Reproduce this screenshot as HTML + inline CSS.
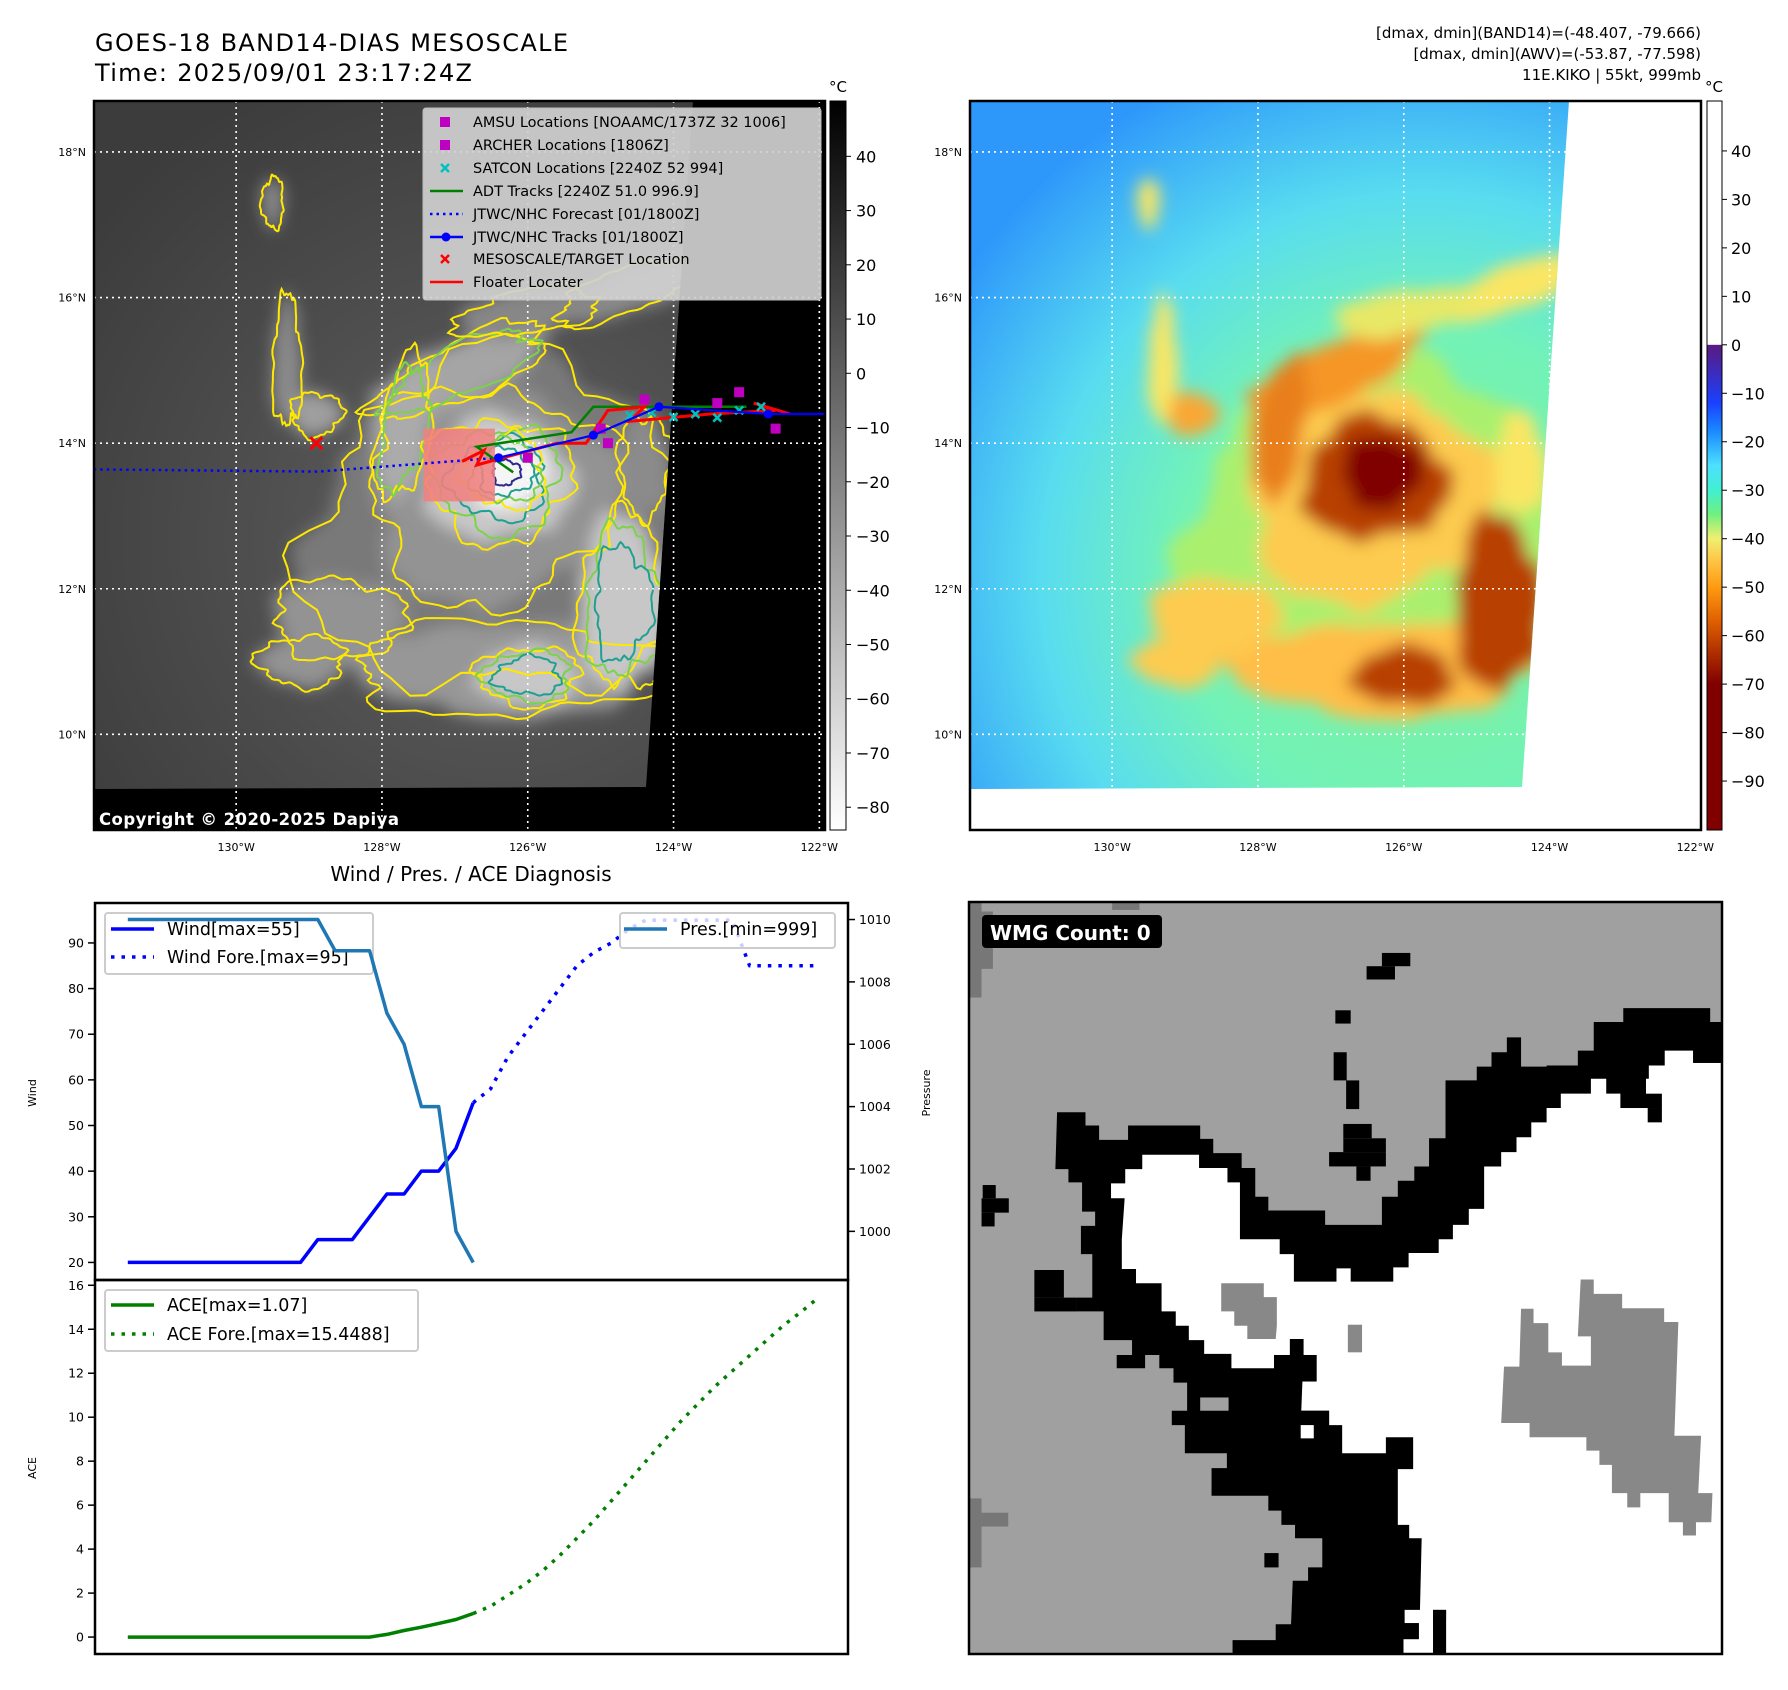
<!DOCTYPE html>
<html><head><meta charset="utf-8">
<style>
body{margin:0;background:#fff}
svg{display:block;font-family:"DejaVu Sans","Liberation Sans",sans-serif}
</style></head>
<body>
<svg id="root" width="1788" height="1690" viewBox="0 0 1788 1690" xmlns="http://www.w3.org/2000/svg">
<defs>
  <filter id="blurBig" x="-30%" y="-30%" width="160%" height="160%"><feGaussianBlur stdDeviation="8"/></filter>
  <clipPath id="clipData1"><polygon points="94,101 693,101 646,787 94,789"/></clipPath>
  <clipPath id="clipData2"><polygon points="970,101 1569,101 1522,787 970,789"/></clipPath>
  <clipPath id="clipAx1"><rect x="94" y="101" width="731" height="729"/></clipPath>
  <clipPath id="clipAx2"><rect x="970" y="101" width="731" height="729"/></clipPath>
  <clipPath id="clipWmg"><rect x="969" y="902" width="753" height="752"/></clipPath>
  <linearGradient id="cbGrey" x1="0" y1="0" x2="0" y2="1">
    <stop offset="0" stop-color="#000"/><stop offset="1" stop-color="#fff"/>
  </linearGradient>
  <linearGradient id="cbColor" x1="0" y1="0" x2="0" y2="1">
    <stop offset="0" stop-color="#fff"/>
    <stop offset="0.334" stop-color="#fff"/>
    <stop offset="0.335" stop-color="#5a1a80"/>
    <stop offset="0.414" stop-color="#1a40ff"/>
    <stop offset="0.454" stop-color="#1a8cff"/>
    <stop offset="0.50" stop-color="#4de0ff"/>
    <stop offset="0.534" stop-color="#40f0d0"/>
    <stop offset="0.567" stop-color="#70f080"/>
    <stop offset="0.60" stop-color="#f0f070"/>
    <stop offset="0.634" stop-color="#ffc040"/>
    <stop offset="0.667" stop-color="#ff9a10"/>
    <stop offset="0.713" stop-color="#e06000"/>
    <stop offset="0.755" stop-color="#b03000"/>
    <stop offset="0.80" stop-color="#800000"/>
    <stop offset="1" stop-color="#800000"/>
  </linearGradient>
  <radialGradient id="map2bg" cx="0.62" cy="0.65" r="0.75">
    <stop offset="0" stop-color="#80f098"/>
    <stop offset="0.45" stop-color="#72f2b8"/>
    <stop offset="0.7" stop-color="#58dcf0"/>
    <stop offset="1" stop-color="#2e98fa"/>
  </radialGradient>
  <radialGradient id="map1bg" cx="0.55" cy="0.6" r="0.7">
    <stop offset="0" stop-color="#606060"/>
    <stop offset="0.6" stop-color="#4a4a4a"/>
    <stop offset="1" stop-color="#3c3c3c"/>
  </radialGradient>
</defs>

<text x="95" y="51" font-size="24" textLength="473">GOES-18 BAND14-DIAS MESOSCALE</text>
<text x="95" y="81" font-size="24" textLength="377">Time: 2025/09/01 23:17:24Z</text>
<text x="1701" y="38" font-size="15" text-anchor="end">[dmax, dmin](BAND14)=(-48.407, -79.666)</text>
<text x="1701" y="59" font-size="15" text-anchor="end">[dmax, dmin](AWV)=(-53.87, -77.598)</text>
<text x="1701" y="80" font-size="15" text-anchor="end">11E.KIKO | 55kt, 999mb</text>

<g id="map1"></g>
<g id="map2"></g>

<rect x="830" y="101" width="16" height="729" fill="url(#cbGrey)" stroke="#000" stroke-width="1"/>
<text x="838" y="92" font-size="15" text-anchor="middle">°C</text>
<g id="cb1ticks"></g>
<rect x="1707" y="101" width="15" height="729" fill="url(#cbColor)" stroke="#000" stroke-width="1"/>
<text x="1714" y="92" font-size="15" text-anchor="middle">°C</text>
<g id="cb2ticks"></g>

<text x="471" y="881" font-size="20" text-anchor="middle">Wind / Pres. / ACE Diagnosis</text>
<g id="chart"></g>

<g id="wmg" clip-path="url(#clipWmg)">
 <g transform="translate(899.2,858.4) scale(0.5679,0.5311)">
  <rect x="0" y="0" width="1600" height="1600" fill="#a0a0a0"/>
  <g fill="#777">
   <rect x="123" y="82" width="22" height="180"/><rect x="145" y="100" width="20" height="108"/>
   <rect x="375" y="82" width="48" height="15"/>
   <rect x="123" y="1205" width="22" height="130"/><rect x="145" y="1232" width="47" height="26"/>
  </g>
  <polygon fill="#000" points="278,478 328,478 328,503 352,503 352,530 403,530 403,503 530,503 530,528 553,528 553,555 603,555 603,583 627,583 627,637 650,637 650,663 750,663 750,690 850,690 850,637 878,637 878,607 907,607 907,580 933,580 933,527 962,527 962,418 1017,418 1017,392 1043,392 1043,365 1070,365 1070,337 1095,337 1095,392 1140,392 1140,390 1195,390 1195,362 1223,362 1223,308 1275,308 1275,282 1428,282 1428,308 1460,308 1460,1000 888,1498 587,1498 587,1472 663,1472 663,1442 690,1442 693,1360 720,1360 720,1335 745,1335 745,1280 697,1280 697,1255 673,1255 673,1228 650,1228 650,1200 550,1200 550,1148 577,1148 577,1120 503,1120 503,1067 480,1067 480,1040 507,1040 507,987 483,987 483,960 458,960 458,935 433,935 433,960 383,960 383,935 410,935 410,907 360,907 360,853 313,853 313,827 340,827 340,745 320,745 320,692 345,692 345,665 322,665 322,610 298,610 298,585 275,585"/>
  <polygon fill="#fff" points="428,558 528,558 528,583 578,583 578,610 600,610 600,717 670,717 670,745 695,745 695,797 770,797 770,772 795,772 795,797 870,797 870,770 897,770 897,743 950,743 950,717 975,717 975,690 1003,690 1003,660 1030,660 1030,580 1060,580 1060,553 1087,553 1087,525 1113,525 1113,497 1140,497 1140,470 1165,470 1165,443 1218,443 1218,415 1245,415 1245,443 1270,443 1270,470 1315,470 1315,415 1320,415 1320,390 1348,390 1348,362 1398,362 1398,385 1460,385 1460,1510 963,1510 963,1415 940,1415 940,1510 888,1510 888,1470 915,1470 915,1440 890,1440 890,1415 917,1415 920,1280 898,1280 898,1255 878,1255 878,1150 905,1150 905,1090 857,1090 857,1120 780,1120 780,1067 757,1067 757,1040 708,1040 710,985 735,985 735,935 712,935 712,905 688,905 688,935 660,935 660,960 585,960 585,933 537,933 537,907 510,907 510,880 487,880 487,853 462,853 462,800 417,800 417,773 392,773 392,717 397,640 373,640 373,612 398,612 398,585 428,585"/>
  <g fill="#000">
   <rect x="1270" y="443" width="73" height="27"/><rect x="1318" y="470" width="25" height="27"/><rect x="1398" y="362" width="51" height="23"/>
   <rect x="850" y="178" width="50" height="25"/><rect x="823" y="203" width="50" height="25"/>
   <rect x="768" y="286" width="27" height="25"/><rect x="765" y="365" width="23" height="53"/><rect x="787" y="418" width="23" height="54"/>
   <rect x="782" y="500" width="50" height="27"/><rect x="782" y="527" width="75" height="26"/><rect x="757" y="553" width="100" height="27"/><rect x="805" y="580" width="25" height="27"/>
   <rect x="147" y="615" width="23" height="25"/><rect x="145" y="640" width="48" height="27"/><rect x="145" y="667" width="23" height="26"/>
   <rect x="238" y="775" width="52" height="52"/><rect x="238" y="827" width="75" height="26"/>
   <rect x="643" y="1308" width="25" height="27"/>
   <rect x="688" y="905" width="24" height="30"/><rect x="660" y="935" width="75" height="50"/><rect x="708" y="1040" width="49" height="27"/>
   <rect x="940" y="1415" width="23" height="95"/><rect x="860" y="1440" width="55" height="30"/><rect x="860" y="1470" width="28" height="40"/>
  </g>
  <rect x="530" y="1015" width="50" height="25" fill="#a0a0a0"/>
  <rect x="707" y="1067" width="23" height="25" fill="#fff"/>
  <g fill="#888">
   <polygon points="567,800 642,800 642,826 665,826 665,880 663,905 613,905 613,880 590,880 590,853 567,853"/>
   <rect x="790" y="878" width="25" height="52"/>
   <polygon points="1200,793 1223,793 1223,820 1273,820 1273,847 1347,847 1347,873 1372,873 1365,1087 1412,1087 1407,1195 1432,1195 1430,1250 1403,1250 1403,1275 1380,1275 1380,1250 1355,1250 1355,1195 1305,1195 1305,1222 1282,1222 1282,1195 1255,1195 1255,1142 1233,1142 1233,1115 1210,1115 1210,1090 1110,1090 1110,1063 1060,1063 1065,957 1092,957 1095,848 1117,848 1117,875 1143,875 1143,930 1167,930 1167,955 1218,955 1218,900 1195,900"/>
  </g>
 </g>
</g>
<rect x="969" y="902" width="753" height="752" fill="none" stroke="#000" stroke-width="2.5"/>
<rect x="982" y="915" width="180" height="33" rx="4" fill="#000"/>
<text x="990" y="940" font-size="20" font-weight="bold" fill="#fff">WMG Count: 0</text>
</svg>

<script>
// ===== Chart data =====
const obsIdx = [0,1,2,3,4,5,6,7,8,9,10,11,12,13,14,15,16,17,18,19,20];
const fcstIdx = [20,21,22,23,24,25,26,27,28,29,30,31,32,33,34,35,36,37,38,39,40];
const windObs = [20,20,20,20,20,20,20,20,20,20,20,25,25,25,30,35,35,40,40,45,55];
const windFcst = [55,58,65,70,75,80,85,88,90,93,95,95,95,95,95,95,85,85,85,85,85];
const presObs = [1010,1010,1010,1010,1010,1010,1010,1010,1010,1010,1010,1010,1009,1009,1009,1007,1006,1004,1004,1000,999];
const aceObs = [0,0,0,0,0,0,0,0,0,0,0,0,0,0,0,0.12,0.3,0.45,0.62,0.8,1.07];
const aceFcst = [1.07,1.4,1.9,2.4,3.0,3.7,4.5,5.3,6.2,7.1,8.0,8.9,9.8,10.6,11.4,12.1,12.8,13.5,14.2,14.8,15.45];
const windTicks = [20,30,40,50,60,70,80,90];
const presTicks = [1000,1002,1004,1006,1008,1010];
const aceTicks = [0,2,4,6,8,10,12,14,16];
// ===== Map data =====
const latTicks = [18,16,14,12,10];
const lonTicks = [-130,-128,-126,-124,-122];
const cb1Ticks = [40,30,20,10,0,-10,-20,-30,-40,-50,-60,-70,-80];
const cb2Ticks = [40,30,20,10,0,-10,-20,-30,-40,-50,-60,-70,-80,-90];
const cloudLon = [-126.3,-126.5,-126.9,-127.7,-126.4,-126.3,-126.3,-126.0,-124.7,-128.6,-129.1,-129.3,-128.9,-129.5,-124.6,-124.4,-126.0];
const cloudLat = [12.8,13.3,15.0,14.2,13.5,13.6,10.9,10.8,11.8,11.6,11.0,15.1,14.4,17.3,16.1,13.7,15.8];
const cloudRx = [2.7,1.7,1.3,0.35,1.0,0.55,2.1,0.7,0.6,0.9,0.6,0.2,0.35,0.15,1.1,0.35,1.0];
const cloudRy = [2.3,1.5,0.4,1.0,0.85,0.5,0.65,0.4,1.2,0.55,0.35,0.9,0.3,0.35,0.3,0.7,0.3];
const cloudRot = [0,0,-25,10,0,0,0,0,0,0,0,0,0,0,-20,0,-10];
const cloudInt = [0.33,0.46,0.55,0.58,0.72,0.95,0.48,0.72,0.72,0.46,0.46,0.42,0.52,0.42,0.42,0.42,0.4];
const jtwcLon = [-126.4,-125.1,-124.2,-122.7,-121.9];
const jtwcLat = [13.8,14.11,14.5,14.4,14.4];
const fcstLon = [-126.4,-128.87,-131.95];
const fcstLat = [13.8,13.61,13.64];
const floaterLon = [-126.9,-126.6,-126.7,-125.6,-125.2,-124.9,-124.4,-124.6,-123.5,-122.6,-122.9,-122.4];
const floaterLat = [13.75,13.9,13.7,14.0,14.0,14.45,14.5,14.3,14.4,14.45,14.55,14.4];
const adtLon = [-126.2,-126.7,-125.4,-125.1,-124.6,-123.0];
const adtLat = [13.6,13.95,14.15,14.5,14.5,14.5];
const satconLon = [-124.6,-124.3,-124.0,-123.7,-123.4,-123.1,-122.8];
const satconLat = [14.38,14.42,14.36,14.4,14.35,14.45,14.5];
const amsuLon = [-124.4,-123.4,-123.1,-122.6,-125.0,-126.0,-124.9];
const amsuLat = [14.6,14.55,14.7,14.2,14.2,13.8,14.0];
const targetLon = [-128.9];
const targetLat = [14.0];

const NS = 'http://www.w3.org/2000/svg';
function mk(tag, attrs, parent){const e=document.createElementNS(NS,tag);for(const k in attrs)e.setAttribute(k,attrs[k]);parent.appendChild(e);return e;}

const X = (lon,off)=>94+off+(lon+131.95)*72.9;
const Y = lat=>101+(18.70-lat)*72.8;
const DEG = 72.85;

function blobD(cx,cy,rx,ry,rot,seed,amp){
  let d='';const n=96;const c=Math.cos(rot*Math.PI/180),s=Math.sin(rot*Math.PI/180);
  for(let k=0;k<n;k++){const t=k/n*2*Math.PI;
    const f=1+amp*(0.45*Math.sin(3*t+seed)+0.3*Math.sin(7*t+seed*2.1)+0.15*Math.sin(13*t+seed*3.3)+0.1*Math.sin(23*t+seed*1.3));
    const px=rx*f*Math.cos(t),py=ry*f*Math.sin(t);
    d+=(k?'L':'M')+(cx+px*c-py*s).toFixed(1)+','+(cy+px*s+py*c).toFixed(1);}
  return d+'Z';
}
function grey(i){const v=Math.round(Math.min(250,55+i*200));return 'rgb('+v+','+v+','+v+')';}
function heat(i){
  const st=[[0.33,[170,240,110]],[0.42,[250,230,100]],[0.48,[255,190,70]],[0.55,[245,150,40]],[0.6,[224,112,16]],[0.72,[184,64,0]],[0.85,[154,24,0]],[0.95,[128,0,0]]];
  if(i<=st[0][0])return 'rgb('+st[0][1]+')';
  for(let k=1;k<st.length;k++){if(i<=st[k][0]){const a=st[k-1],b=st[k],t=(i-a[0])/(b[0]-a[0]);
    return 'rgb('+a[1].map((v,j)=>Math.round(v+(b[1][j]-v)*t)).join(',')+')';}}
  return 'rgb(128,0,0)';
}

function drawMap(root, off, mode){
  const axX=94+off, axY=101, W=731, H=729;
  const bg=mk('rect',{x:axX,y:axY,width:W,height:H,fill:mode===1?'#000':'#fff'},root);
  
  
  const data=mk('g',{'clip-path':'url(#clipData'+mode+')'},root);
  
  
  const base=mk('rect',{x:axX,y:axY,width:W,height:H,fill:mode===1?'url(#map1bg)':'url(#map2bg)'},data);
  
  
  const clouds=mk('g',{filter:'url(#blurBig)'},data);
  
  
  for(let k=0;k<cloudLon.length;k++){
    const p=mk('path',{d:blobD(X(cloudLon[k],off),Y(cloudLat[k]),cloudRx[k]*DEG,cloudRy[k]*DEG,cloudRot[k],k*1.7,0.18),fill:mode===1?grey(cloudInt[k]):heat(cloudInt[k])},clouds);
    
    
  }
  if(mode===1){
    const cont=mk('g',{fill:'none','stroke-width':2},data);
    
    
    for(let k=0;k<cloudLon.length;k++){
      const cx=X(cloudLon[k],off),cy=Y(cloudLat[k]);
      const levels=[[1.0,0.3,'#ffe800'],[0.85,0.55,'#7cd24a'],[0.65,0.72,'#20a090'],[0.35,0.93,'#2a2a90']];
      levels.forEach((L,j)=>{ if(cloudInt[k]>=L[1]){
        const c=mk('path',{d:blobD(cx,cy,cloudRx[k]*DEG*L[0],cloudRy[k]*DEG*L[0],cloudRot[k],k*2.3+j,0.25),stroke:L[2]},cont);
        
        
      }});
    }
  }
  const grid=mk('g',{stroke:'#fff','stroke-width':1.6,'stroke-dasharray':'2,4','clip-path':'url(#clipAx'+mode+')'},root);
  
  
  lonTicks.forEach(lon=>{const l=mk('line',{x1:X(lon,off),x2:X(lon,off),y1:axY,y2:axY+H},grid);
    
    });
  latTicks.forEach(lat=>{const l=mk('line',{x1:axX,x2:axX+W,y1:Y(lat),y2:Y(lat)},grid);
    
    });
  latTicks.forEach(lat=>{const t=mk('text',{x:axX-8,y:Y(lat)+4,'font-size':11,'text-anchor':'end'},root);t.textContent=lat+'°N';
    
    });
  lonTicks.forEach(lon=>{const t=mk('text',{x:X(lon,off),y:851,'font-size':11,'text-anchor':'middle'},root);t.textContent=(-lon)+'°W';
    
    });
}

const m1=document.getElementById('map1');
drawMap(m1,0,1);
const ov=mk('g',{'clip-path':'url(#clipAx1)'},m1);


const rect=mk('rect',{x:X(-127.43,0),y:Y(14.2),width:(-126.45+127.43)*72.9,height:1.0*72.8,fill:'#f08080','fill-opacity':0.88},ov);


function pts(lons,lats){return lons.map((v,i)=>X(v,0).toFixed(1)+','+Y(lats[i]).toFixed(1)).join(' ');}
const fl=mk('polyline',{points:pts(fcstLon,fcstLat),fill:'none',stroke:'#0000ff','stroke-width':2.5,'stroke-dasharray':'2.5,4'},ov);


const adt=mk('polyline',{points:pts(adtLon,adtLat),fill:'none',stroke:'#008000','stroke-width':2.5},ov);


const flt=mk('polyline',{points:pts(floaterLon,floaterLat),fill:'none',stroke:'#ff0000','stroke-width':3},ov);


satconLon.forEach((v,i)=>{const x=X(v,0),y=Y(satconLat[i]);
  const s=mk('path',{d:`M${x-4},${y-4}L${x+4},${y+4}M${x-4},${y+4}L${x+4},${y-4}`,stroke:'#00c0c0','stroke-width':2.5},ov);
  
  });
amsuLon.forEach((v,i)=>{const s=mk('rect',{x:X(v,0)-5,y:Y(amsuLat[i])-5,width:10,height:10,fill:'#c000c0'},ov);
  
  });
const jt=mk('polyline',{points:pts(jtwcLon,jtwcLat),fill:'none',stroke:'#0000ff','stroke-width':2.2},ov);


jtwcLon.slice(0,4).forEach((v,i)=>{const c=mk('circle',{cx:X(v,0),cy:Y(jtwcLat[i]),r:4.5,fill:'#0000ff'},ov);
  
  });
targetLon.forEach((v,i)=>{const x=X(v,0),y=Y(targetLat[i]);
  const s=mk('path',{d:`M${x-6},${y-6}L${x+6},${y+6}M${x-6},${y+6}L${x+6},${y-6}`,stroke:'#ff0000','stroke-width':3},ov);
  
  });
const cp=mk('text',{x:99,y:825,'font-size':16.5,'font-weight':'bold',fill:'#fff',textLength:300},m1);
cp.textContent='Copyright © 2020-2025 Dapiya';


const lg=mk('g',{},m1);


const lgb=mk('rect',{x:423,y:108,width:398,height:192,rx:3,fill:'#d0d0d0','fill-opacity':0.92,stroke:'#bcbcbc'},lg);


const legItems=[['sq','#c000c0','AMSU Locations [NOAAMC/1737Z 32 1006]'],['sq','#c000c0','ARCHER Locations [1806Z]'],['x','#00c0c0','SATCON Locations [2240Z 52 994]'],['ln','#008000','ADT Tracks [2240Z 51.0 996.9]'],['dot','#0000ff','JTWC/NHC Forecast [01/1800Z]'],['lnm','#0000ff','JTWC/NHC Tracks [01/1800Z]'],['x','#ff0000','MESOSCALE/TARGET Location'],['ln','#ff0000','Floater Locater']];
const legY=[122,145,168,191,214,237,259,282];
legItems.forEach((it,i)=>{const y=legY[i];
  let m;
  if(it[0]==='sq')m=mk('rect',{x:440,y:y-5,width:10,height:10,fill:it[1]},lg);
  else if(it[0]==='x')m=mk('path',{d:`M441,${y-4}L449,${y+4}M441,${y+4}L449,${y-4}`,stroke:it[1],'stroke-width':2.5},lg);
  else if(it[0]==='dot')m=mk('line',{x1:430,x2:463,y1:y,y2:y,stroke:it[1],'stroke-width':2.5,'stroke-dasharray':'2.5,4'},lg);
  else {m=mk('line',{x1:430,x2:463,y1:y,y2:y,stroke:it[1],'stroke-width':2.5},lg);
    if(it[0]==='lnm'){const c=mk('circle',{cx:446,cy:y,r:4.5,fill:it[1]},lg);
      
      }}
  
  
  const t=mk('text',{x:473,y:y+5,'font-size':14.5},lg);t.textContent=it[2];
  
  
});
const fr1=mk('rect',{x:94,y:101,width:731,height:729,fill:'none',stroke:'#000','stroke-width':2.5},m1);



const m2=document.getElementById('map2');
drawMap(m2,876,2);
const fr2=mk('rect',{x:970,y:101,width:731,height:729,fill:'none',stroke:'#000','stroke-width':2.5},m2);



const cbY1=v=>101+(50.2-v)/(50.2+84.2)*729;
const cbY2=v=>101+(50.3-v)/(50.3+100.1)*729;
cb1Ticks.forEach(v=>{const g=document.getElementById('cb1ticks');const y=cbY1(v);
  const l=mk('line',{x1:846,x2:851,y1:y,y2:y,stroke:'#000','stroke-width':1},g);
  
  
  const t=mk('text',{x:856,y:y+6,'font-size':16},g);t.textContent=v<0?'\u2212'+(-v):String(v);
  
  });
cb2Ticks.forEach(v=>{const g=document.getElementById('cb2ticks');const y=cbY2(v);
  const l=mk('line',{x1:1722,x2:1727,y1:y,y2:y,stroke:'#000','stroke-width':1},g);
  
  
  const t=mk('text',{x:1731,y:y+6,'font-size':16},g);t.textContent=v<0?'\u2212'+(-v):String(v);
  
  });

const ch=document.getElementById('chart');
const L=95,R=848,T=903,M=1280,B=1654;
const xs=i=>L+(i+1.9)/43.6*(R-L);
const yW=v=>M-(v-16.15)/(98.75-16.15)*(M-T);
const yP=v=>M-(v-998.44)/(1010.53-998.44)*(M-T);
const yA=v=>B-(v+0.77)/(16.24+0.77)*(B-M);
function line(idx,vals,ys,color,dash,name){
  const p=mk('polyline',{points:idx.map((i,k)=>xs(i).toFixed(1)+','+ys(vals[k]).toFixed(1)).join(' '),fill:'none',stroke:color,'stroke-width':3.5,'stroke-linejoin':'round'},ch);
  if(dash)p.setAttribute('stroke-dasharray',dash);
  
  
}
function tickSet(ticks,ys,side){
  ticks.forEach(v=>{const y=ys(v);
    const x1=side==='l'?L-7:R, x2=side==='l'?L:R+7;
    const l=mk('line',{x1,x2,y1:y,y2:y,stroke:'#000','stroke-width':1.5},ch);
    
    
    const t=mk('text',{x:side==='l'?L-11:R+11,y:y+4.5,'font-size':12.5,'text-anchor':side==='l'?'end':'start'},ch);
    t.textContent=String(v);
    
    });
}
tickSet(windTicks,yW,'l');
tickSet(presTicks,yP,'r');
tickSet(aceTicks,yA,'l');
line(obsIdx,windObs,yW,'#0000ff',null,'wind-line');
line(fcstIdx,windFcst,yW,'#0000ff','3.5,7','wind-forecast-line');
const wl=mk('g',{},ch);


const wlb=mk('rect',{x:105,y:913,width:268,height:61,rx:3,fill:'#fff','fill-opacity':0.8,stroke:'#ccc','stroke-width':2},wl);


[[929,null,'Wind[max=55]'],[957,'3.5,7','Wind Fore.[max=95]']].forEach(e=>{
  const l=mk('line',{x1:111,x2:154,y1:e[0],y2:e[0],stroke:'#0000ff','stroke-width':3.5},wl);
  if(e[1])l.setAttribute('stroke-dasharray',e[1]);
  
  
  const t=mk('text',{x:167,y:e[0]+6,'font-size':17.5},wl);t.textContent=e[2];
  
  });
line(obsIdx,presObs,yP,'#1f77b4',null,'pressure-line');
const pl=mk('g',{},ch);


const plb=mk('rect',{x:620,y:913,width:215,height:35,rx:3,fill:'#fff','fill-opacity':0.8,stroke:'#ccc','stroke-width':2},pl);


const pll=mk('line',{x1:624,x2:667,y1:929,y2:929,stroke:'#1f77b4','stroke-width':3.5},pl);


const plt=mk('text',{x:680,y:935,'font-size':17.5},pl);plt.textContent='Pres.[min=999]';


line(obsIdx,aceObs,yA,'#008000',null,'ace-line');
line(fcstIdx,aceFcst,yA,'#008000','3.5,7','ace-forecast-line');
const al=mk('g',{},ch);


const alb=mk('rect',{x:105,y:1290,width:313,height:61,rx:3,fill:'#fff','fill-opacity':0.8,stroke:'#ccc','stroke-width':2},al);


[[1305,null,'ACE[max=1.07]'],[1334,'3.5,7','ACE Fore.[max=15.4488]']].forEach(e=>{
  const l=mk('line',{x1:111,x2:154,y1:e[0],y2:e[0],stroke:'#008000','stroke-width':3.5},al);
  if(e[1])l.setAttribute('stroke-dasharray',e[1]);
  
  
  const t=mk('text',{x:167,y:e[0]+6,'font-size':17.5},al);t.textContent=e[2];
  
  });
const f1=mk('rect',{x:L,y:T,width:R-L,height:M-T,fill:'none',stroke:'#000','stroke-width':2.5},ch);


const f2=mk('rect',{x:L,y:M,width:R-L,height:B-M,fill:'none',stroke:'#000','stroke-width':2.5},ch);


[['Wind',36,1093,'wind-axis-title'],['Pressure',930,1093,'pressure-axis-title'],['ACE',36,1468,'ace-axis-title']].forEach(a=>{
  const t=mk('text',{x:a[1],y:a[2],'font-size':11,'text-anchor':'middle',transform:`rotate(-90 ${a[1]} ${a[2]})`},ch);
  t.textContent=a[0];
  
  });
</script>
</body></html>
